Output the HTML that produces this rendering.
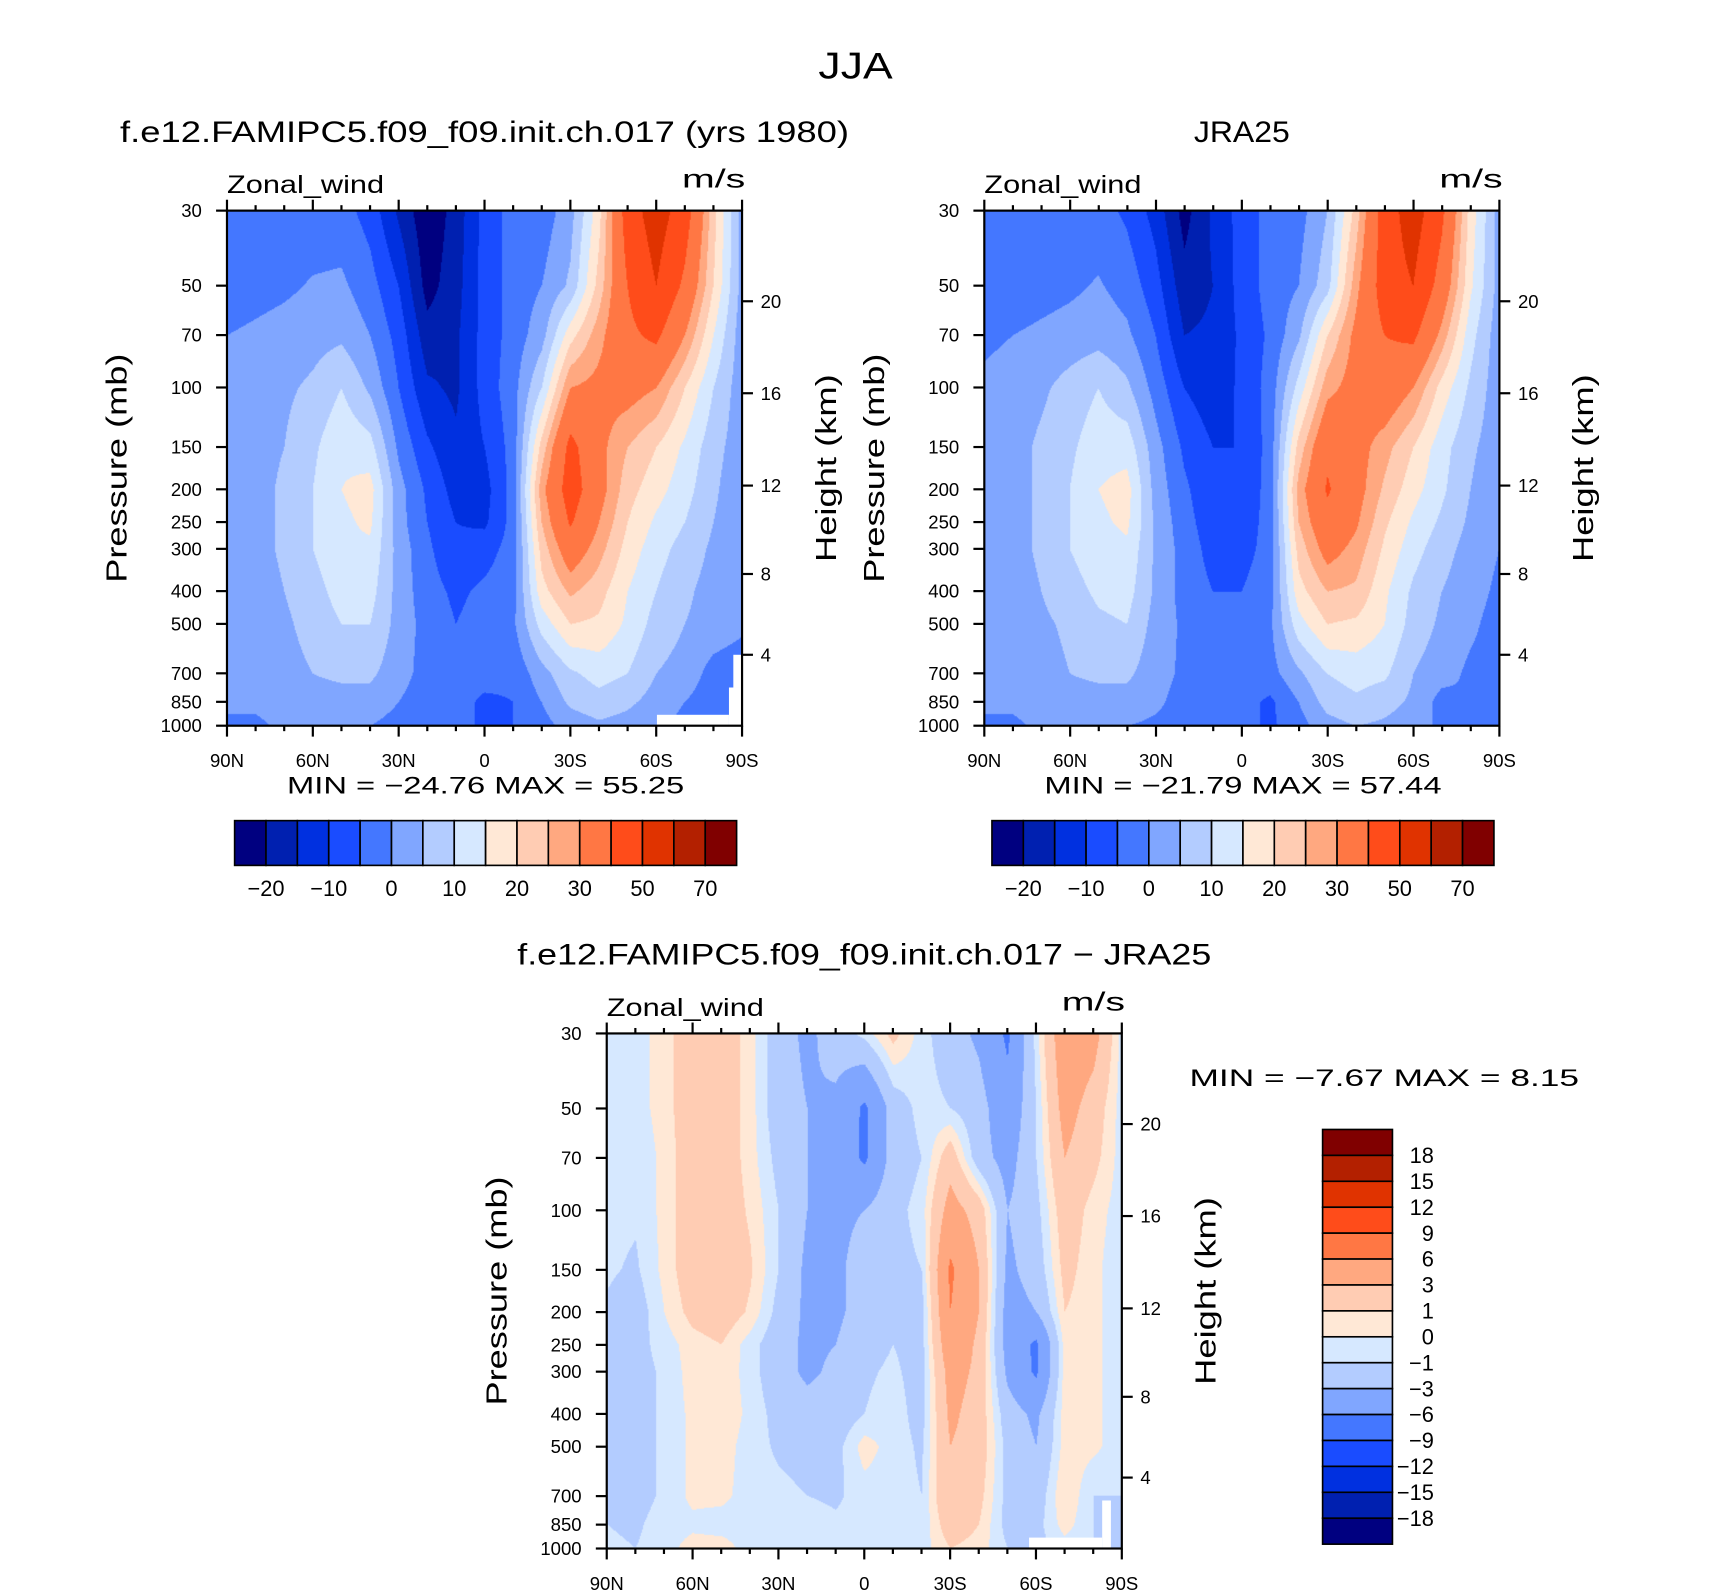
<!DOCTYPE html>
<html><head><meta charset="utf-8"><style>
html,body{margin:0;padding:0;background:#fff;}
#root{position:relative;width:1710px;height:1596px;overflow:hidden;background:#fff;}
canvas{position:absolute;}
svg{position:absolute;left:0;top:0;}
text{font-family:"Liberation Sans","DejaVu Sans",sans-serif;fill:#000;}
</style></head><body>
<div id="root">
<canvas id="c1"></canvas>
<canvas id="c2"></canvas>
<canvas id="c3"></canvas>
<svg id="s" width="1710" height="1596" viewBox="0 0 1567 1462.5"></svg>
</div>
<script>
// ---- data ----
const lats = [90,80,70,60,50,40,30,20,10,0,-10,-20,-30,-40,-50,-60,-70,-80,-90];
const levels = [30,50,70,100,150,200,250,300,400,500,700,850,1000];
const meanBounds = [-20,-15,-10,-5,0,5,10,15,20,25,30,40,50,60,70];
const meanLabels = ["\u221220","\u221210","0","10","20","30","50","70"];
const diffBounds = [-18,-15,-12,-9,-6,-3,-1,0,1,3,6,9,12,15,18];
const diffLabels = ["18","15","12","9","6","3","1","0","\u22121","\u22123","\u22126","\u22129","\u221212","\u221215","\u221218"];
const pTicks = [30,50,70,100,150,200,250,300,400,500,700,850,1000];
const hTicks = [4,8,12,16,20];
const hTickP = [617,356,195,104,55.6]; // pressure equivalent of height ticks
const latTicks = [90,60,30,0,-30,-60,-90];
const latTickLabels = ["90N","60N","30N","0","30S","60S","90S"];
const colors = ["#000080","#0020b0","#0030e0","#1a4cff","#4477ff","#80a6ff","#b3ccff","#d6e8ff","#ffe8d6","#ffccb3","#ffa880","#ff7744","#ff4c1a","#e03300","#b32000","#800000"];

const modelField = [
[-3,-3,-3,-3,-3,-7,-16,-24,-18,-8,-3,-3,3,18,45,55,45,22,3],
[-3,-2,-1,0.5,1,-3,-10,-22,-17,-8,-3,0,6,22,40,50,38,20,3],
[0,1,2,3,4,0,-7,-18,-16,-8,-3,3,18,28,38,42,30,15,2],
[1,2,4,6,10,4,-5,-14,-16,-8,-2,10,30,32,33,30,20,10,2],
[1,3,5,9,14,12,-1,-9,-14,-10,-3,22,43,32,25,20,14,7,2],
[1,3,6,10,15,17,2,-6,-12,-12,-3,28,45,33,22,17,12,6,1],
[1,3,6,10,14,16,2,-5,-10,-11,-3,25,41,30,20,14,10,5,1],
[1,3,6,10,14,14,3,-4,-9,-7,-3,22,35,27,18,12,8,4,1],
[1,2,5,8,12,12,3,-3,-6,-4,-2,18,26,22,15,10,6,3,1],
[1,2,4,7,10,10,3,-2,-5,-3,-1,12,20,19,14,8,5,3,1],
[1,2,3,5,6,6,2,-2,-4,-3,-4,3,9,12,10,5,3,-2,-3],
[0,1,2,3,3,3,0,-3,-3,-6,-5,0,6,8,6,3,0,-3,-3],
[0,-1,1,1,1,0,-2,-3,-3,-6,-5,-2,2,4,3,2,-2,-3,-3]];
const jraField = [
[-3,-3,-3,-3,-3,-6,-12,-22,-14,-8,-3,-2,5,22,45,55,42,18,3],
[-3,-3,-2,-1,0.5,-2,-8,-18,-15,-8,-3,0,8,28,45,50,36,16,3],
[-1,0,1,2,3,1,-5,-15,-14,-9,-4,4,20,32,40,42,28,12,2],
[1,2,4,7,10,6,-2,-10,-13,-9,-3,12,28,33,36,30,18,9,2],
[1,3,6,9,13,13,2,-6,-10,-10,-3,22,38,33,27,20,12,6,2],
[1,3,6,10,15,17,3,-4,-9,-9,-3,27,41,33,24,17,11,5,1],
[1,3,6,10,14,16,4,-3,-8,-8,-3,25,37,31,21,14,9,4,1],
[1,3,6,10,13,14,4,-2,-7,-7,-3,22,33,28,19,12,7,3,0],
[1,2,5,8,11,12,4,-2,-5,-5,-2,18,25,24,16,9,5,2,-1],
[1,2,4,6,9,10,3,-1,-4,-3,-1,13,20,19,15,8,4,1,-2],
[1,2,3,5,6,6,2,-1,-3,-2,-2,4,10,12,11,5,2,-1,-2],
[0,1,2,3,3,3,1,-2,-2,-3,-6,0,7,9,7,4,-2,0,-2],
[0,-1,1,1,1,0,-1,-2,-2,-3,-6,-2,3,5,4,2,-1,-1,-2]];
const diffField = [
[-0.5,-0.5,0.5,2,2,0.5,-2,-3.5,-2,-0.5,1.5,-0.5,-2,-3.5,-6.5,-0.5,5,4,-0.5],
[-0.5,-0.5,0.5,2,2,0.5,-2,-3,-3.5,-6.5,-2,-0.5,-1,-2,-5,-1,4,2,-0.5],
[-0.5,-0.8,0.3,2,2,0.5,-1.5,-3,-4,-6.5,-2,-1,2,-2,-4,-1,3,1.5,-0.5],
[-0.6,-0.8,0.3,2,2,0.8,-1,-3,-3.5,-3,-1.5,-0.5,4,2,-3,-1.5,2,0.5,-0.5],
[-0.8,-1.2,0.3,2,2,1.2,-1,-3.5,-3.5,-2,-1.5,-1,6.5,3,-3.5,-2,1.5,0.3,-0.7],
[-1.2,-1.8,0,1.5,2,0.8,-1.5,-3.5,-3.5,-2,-1.5,-1.5,6,3,-4,-3,1,0.3,-0.7],
[-1.2,-1.5,-0.5,0.5,1,-0.5,-2,-3.5,-3,-1.5,-1,-1.5,5,2.5,-4,-6.5,0.5,0.3,-0.7],
[-1.5,-1.5,-0.8,0.5,0.8,-0.5,-2,-3.5,-2.5,-1.2,-0.8,-1.5,4,2.5,-3.5,-6.5,0.5,0.3,-0.7],
[-1.2,-1.5,-0.8,0.3,0.8,-0.3,-1.5,-2,-2,-1,-0.5,-1.5,3.5,2,-2,-3.5,0.5,0.3,-0.7],
[-1.2,-1.5,-0.8,0.3,0.5,-0.5,-1.2,-1.5,-1.5,0.5,-0.5,-1.2,3,2,-1.5,-3,0.5,0.3,-0.7],
[-1,-1.5,-0.8,0.3,0.3,-0.5,-0.7,-1,-1.2,-0.5,-0.5,-1,3,1.5,-1.5,-2,1,-1,-1],
[-1,-1.2,-0.5,-0.3,-0.5,-0.5,-0.8,-0.5,-0.8,-0.5,-0.5,-0.8,2,1,-1.5,-1.5,0.5,-1,-2],
[-0.8,-1,-0.5,0.5,0.5,-0.5,-0.5,-0.5,-0.5,-0.5,-0.5,-0.5,1,0.5,-1,-1.5,-0.5,-1,-2]];

// ---- layout ----
const K = 1710/1567;
const W = 472, H = 472;
const panels = [
 {x:208,y:193,field:modelField,bounds:meanBounds,canvas:'c1',name:'model',title:'f.e12.FAMIPC5.f09_f09.init.ch.017 (yrs 1980)',tw:668,mm:'MIN = \u221224.76   MAX =  55.25',missing:[[602,655,66,10],[668,630,12,35],[672,600,8,30]]},
 {x:902,y:193,field:jraField,bounds:meanBounds,canvas:'c2',name:'jra25',title:'JRA25',tw:88,mm:'MIN = \u221221.79   MAX =  57.44',missing:[]},
 {x:556,y:947,field:diffField,bounds:diffBounds,canvas:'c3',name:'difference',title:'f.e12.FAMIPC5.f09_f09.init.ch.017 \u2212 JRA25',tw:636,mm:null,missing:[[943,1409,67,10],[1010,1375,8,44]]}
];
const LN = Math.log(1000/30);
function xFrac(lat){return (90-lat)/180;}
function yFrac(p){return Math.log(p/30)/LN;}
function xScale(P,lat){return P.x + xFrac(lat)*W;}
function yScale(P,p){return P.y + yFrac(p)*H;}
const levelFr = levels.map(yFrac);

function sample(field, fx, fy){
  const cx = fx*(lats.length-1);
  let i0 = Math.min(Math.floor(cx), lats.length-2); const tx = cx-i0;
  let r0 = 0; while(r0 < levels.length-2 && levelFr[r0+1] < fy) r0++;
  const ty = Math.max(0,Math.min(1,(fy-levelFr[r0])/(levelFr[r0+1]-levelFr[r0])));
  const a = field[r0][i0], b = field[r0][i0+1], c = field[r0+1][i0], d = field[r0+1][i0+1];
  return (a*(1-tx)+b*tx)*(1-ty) + (c*(1-tx)+d*tx)*ty;
}
function colorIndex(v,bounds){let k=0;while(k<bounds.length && v>=bounds[k])k++;return k;}
function hex(h){return [parseInt(h.substr(1,2),16),parseInt(h.substr(3,2),16),parseInt(h.substr(5,2),16)];}
const rgb = colors.map(hex);

panels.forEach(P=>{
  const cv = document.getElementById(P.canvas);
  cv.width = W; cv.height = H;
  cv.style.left = (P.x*K)+'px'; cv.style.top = (P.y*K)+'px';
  cv.style.width = (W*K)+'px'; cv.style.height = (H*K)+'px';
  const ctx = cv.getContext('2d');
  const img = ctx.createImageData(W,H);
  for(let j=0;j<H;j++){const fy=(j+0.5)/H;
    for(let i=0;i<W;i++){const fx=(i+0.5)/W;
      const v = sample(P.field,fx,fy); const c = rgb[colorIndex(v,P.bounds)];
      const o=(j*W+i)*4; img.data[o]=c[0];img.data[o+1]=c[1];img.data[o+2]=c[2];img.data[o+3]=255;}}
  ctx.putImageData(img,0,0);
});

// ---- svg overlay ----
const NS='http://www.w3.org/2000/svg';
const svg=document.getElementById('s');
function el(tag,attrs,parent){const e=document.createElementNS(NS,tag);for(const k in attrs)e.setAttribute(k,attrs[k]);(parent||svg).appendChild(e);return e;}
function txt(s,x,y,size,anchor,parent,extra){const t=el('text',Object.assign({x:x,y:y,'font-size':size,'text-anchor':anchor||'start'},extra||{}),parent);t.textContent=s;return t;}

const mainTitle = txt('JJA',784,72,34,'middle',null,{textLength:68,lengthAdjust:'spacingAndGlyphs'});



panels.forEach(P=>{
  const g = el('g',{});
  
  
  P.missing.forEach(m=>{
    const r=el('rect',{x:m[0],y:m[1],width:m[2],height:m[3],fill:'#fff'},g);
    
    
  });
  const t = txt(P.title,P.x+W/2,P.y-63,27,'middle',g,{textLength:P.tw,lengthAdjust:'spacingAndGlyphs'});
  
  
  const vn = txt('Zonal_wind',P.x,P.y-16,23,'start',g,{textLength:144,lengthAdjust:'spacingAndGlyphs'});
  
  
  const un = txt('m/s',P.x+W-55,P.y-21,24,'start',g,{textLength:58,lengthAdjust:'spacingAndGlyphs'});
  
  
  const fr = el('rect',{x:P.x,y:P.y,width:W,height:H,fill:'none',stroke:'#000','stroke-width':2},g);
  
  
  for(let lat=90;lat>=-90;lat-=10){
    const x=xScale(P,lat); const major=(lat%30===0); const L=major?10:5;
    el('line',{x1:x,y1:P.y,x2:x,y2:P.y-L,stroke:'#000','stroke-width':2},g);
    el('line',{x1:x,y1:P.y+H,x2:x,y2:P.y+H+L,stroke:'#000','stroke-width':2},g);
  }
  latTicks.forEach((lat,i)=>{
    const l=txt(latTickLabels[i],xScale(P,lat),P.y+H+38,17,'middle',g);
    
    
  });
  pTicks.forEach(p=>{
    const y=yScale(P,p);
    el('line',{x1:P.x,y1:y,x2:P.x-10,y2:y,stroke:'#000','stroke-width':2},g);
    const l=txt(String(p),P.x-23,y+6,17,'end',g);
    
    
  });
  hTicks.forEach((h,i)=>{
    const y=yScale(P,hTickP[i]);
    el('line',{x1:P.x+W,y1:y,x2:P.x+W+10,y2:y,stroke:'#000','stroke-width':2},g);
    const l=txt(String(h),P.x+W+17,y+6,17,'start',g);
    
    
  });
  const yt=txt('Pressure (mb)',0,0,26,'middle',g,{transform:'translate('+(P.x-92)+','+(P.y+H/2)+') rotate(-90)',textLength:210,lengthAdjust:'spacingAndGlyphs'});
  
  
  const ht=txt('Height (km)',0,0,26,'middle',g,{transform:'translate('+(P.x+W+86)+','+(P.y+H/2)+') rotate(-90)',textLength:172,lengthAdjust:'spacingAndGlyphs'});
  
  
  if(P.mm){
    const a=txt(P.mm,P.x+55,P.y+H+62,22,'start',g,{'xml:space':'preserve',textLength:364,lengthAdjust:'spacingAndGlyphs'});
    
    
    const cb=el('g',{},g);
    
    
    const bx=P.x+7, by=752, bw=460/16, bh=41;
    colors.forEach((c,k)=>{
      const r=el('rect',{x:bx+k*bw,y:by,width:bw,height:bh,fill:c,stroke:'#000','stroke-width':1.5},cb);
      
      
    });
    meanLabels.forEach((s,k)=>{
      const l=txt(s,bx+(2*k+1)*bw,by+bh+28,20,'middle',cb);
      
      
    });
  }
});
const dmm=txt('MIN =    \u22127.67   MAX =     8.15',1090,995,22,'start',null,{'xml:space':'preserve',textLength:357,lengthAdjust:'spacingAndGlyphs'});


const vcb=el('g',{});


const vbx=1212, vby=1035, vbw=64, vbh=380/16;
for(let k=0;k<16;k++){
  const r=el('rect',{x:vbx,y:vby+k*vbh,width:vbw,height:vbh,fill:colors[15-k],stroke:'#000','stroke-width':1.5},vcb);
  
  
}
diffLabels.forEach((s,k)=>{
  const l=txt(s,1314,vby+(k+1)*vbh+7,20,'end',vcb);
  
  
});
</script>
</body></html>
